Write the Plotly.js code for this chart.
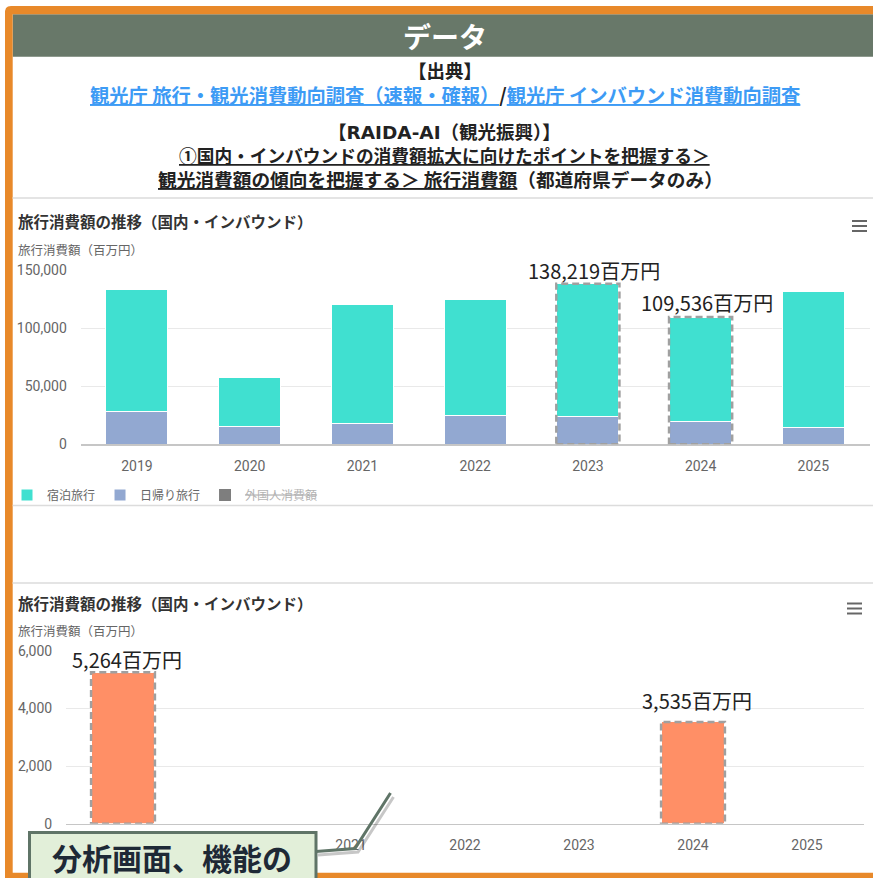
<!DOCTYPE html>
<html>
<head>
<meta charset="utf-8">
<script src="https://cdn.plot.ly/plotly-3.0.1.min.js"></script>
<style>
html,body{margin:0;padding:0;background:#fff;overflow:hidden}
#chart{width:873px;height:878px}
</style>
</head>
<body>
<div id="chart"></div>
<script>
// ---------------- data ----------------
const years = [2019, 2020, 2021, 2022, 2023, 2024, 2025];
const stayValues = [104600, 43000, 102200, 100000, 114719, 90336, 116900];   // 宿泊旅行
const dayTripValues = [28200, 14900, 17700, 25000, 23500, 19200, 14400];     // 日帰り旅行
const inboundValues = [5264, null, null, null, null, 3535, null];            // 外国人消費額
const highlightTop = [2023, 2024];
const highlightInbound = [2019, 2024];
const seriesNames = ['宿泊旅行', '日帰り旅行', '外国人消費額'];
const chartTitle = '旅行消費額の推移（国内・インバウンド）';
const axisTitle = '旅行消費額（百万円）';
const unit = '百万円';
const headerTitle = 'データ';
const sourceLabel = '【出典】';
const link1 = '観光庁 旅行・観光消費動向調査（速報・確報）';
const link2 = '観光庁 インバウンド消費動向調査';
const raidaLabel = ['【', 'RAIDA-AI', '（観光振興）】'];
const pathLine1 = '①国内・インバウンドの消費額拡大に向けたポイントを把握する＞';
const pathLine2a = '観光消費額の傾向を把握する＞ 旅行消費額';
const pathLine2b = '（都道府県データのみ）';
const calloutText = '分析画面、機能の';

// ---------------- helpers ----------------
const W = 873, H = 878;
const X = p => p / W;
const Y = p => 1 - p / H;
const path = pts => pts.map((p, i) => (i ? 'L' : 'M') + X(p[0]) + ',' + Y(p[1])).join(' ');
const FONT = 'Roboto, "Noto Sans CJK JP", sans-serif';
const JP = '"Noto Sans CJK JP", sans-serif';
const fmt = v => v.toLocaleString('en-US');

// ---------------- traces ----------------
const traces = [
  {type: 'bar', x: years, y: dayTripValues, name: seriesNames[1], width: 0.55,
   marker: {color: '#92a8d1', line: {color: '#ffffff', width: 1}},
   xaxis: 'x', yaxis: 'y', legendrank: 2, hoverinfo: 'skip'},
  {type: 'bar', x: years, y: stayValues, name: seriesNames[0], width: 0.55,
   marker: {color: '#40e0d0', line: {color: '#ffffff', width: 1}},
   xaxis: 'x', yaxis: 'y', legendrank: 1, hoverinfo: 'skip'},
  {type: 'bar', x: years, y: inboundValues, width: 0.55,
   name: '<span style="text-decoration:line-through">' + seriesNames[2] + '</span>',
   marker: {color: '#000000'}, visible: 'legendonly',
   xaxis: 'x', yaxis: 'y', legendrank: 3, hoverinfo: 'skip'},
  {type: 'bar', x: years, y: inboundValues, name: seriesNames[2], width: 0.55,
   marker: {color: '#ff8f66', line: {color: '#ffffff', width: 1}},
   xaxis: 'x2', yaxis: 'y2', showlegend: false, hoverinfo: 'skip'}
];

// ---------------- shapes ----------------
const shapes = [];
// header bar
shapes.push({type: 'rect', xref: 'paper', yref: 'paper', x0: X(12.7), x1: X(873), y0: Y(56.7), y1: Y(14.3),
  fillcolor: '#687869', line: {width: 0}, layer: 'above'});
// orange frame
shapes.push({type: 'path', xref: 'paper', yref: 'paper', layer: 'above',
  path: path([[5, 878], [5, 11], [6, 8], [8, 6.5], [11, 6], [873, 6], [873, 14.3], [12.7, 14.3], [12.7, 872.7], [873, 872.7], [873, 878]]) + ' Z',
  fillcolor: '#e8892a', line: {width: 0}});
// separators
[[198, 2, '#e4e4e4'], [505.5, 1.5, '#dcdcdc'], [583, 2, '#e4e4e4']].forEach(s => {
  shapes.push({type: 'line', xref: 'paper', yref: 'paper', x0: X(12.7), x1: X(873), y0: Y(s[0]), y1: Y(s[0]),
    line: {color: s[2], width: s[1]}, layer: 'above'});
});
// menu icons
[[852, 867, 221], [847, 862, 603.5]].forEach(m => {
  [0, 5, 10].forEach(d => shapes.push({type: 'line', xref: 'paper', yref: 'paper',
    x0: X(m[0]), x1: X(m[1]), y0: Y(m[2] + d), y1: Y(m[2] + d), line: {color: '#666', width: 2}, layer: 'above'}));
});
// dashed highlight borders (data coordinates)
highlightTop.forEach(yr => {
  const i = years.indexOf(yr);
  shapes.push({type: 'rect', xref: 'x', yref: 'y', x0: yr - 0.28, x1: yr + 0.28, y0: 0, y1: stayValues[i] + dayTripValues[i],
    line: {color: '#a0a0a0', width: 2.5, dash: '7px,4px'}, layer: 'above'});
});
highlightInbound.forEach(yr => {
  const i = years.indexOf(yr);
  shapes.push({type: 'rect', xref: 'x2', yref: 'y2', x0: yr - 0.28, x1: yr + 0.28, y0: 0, y1: inboundValues[i],
    line: {color: '#a0a0a0', width: 2.5, dash: '7px,4px'}, layer: 'above'});
});
// callout pointer (shadow + line) and box
shapes.push({type: 'path', xref: 'paper', yref: 'paper', layer: 'above',
  path: path([[318, 855], [358, 852], [393.5, 797]]), line: {color: 'rgba(0,0,0,0.22)', width: 3}});
shapes.push({type: 'path', xref: 'paper', yref: 'paper', layer: 'above',
  path: path([[316, 851.5], [355, 848.5], [390.5, 793]]), line: {color: '#5f7467', width: 3}});
shapes.push({type: 'rect', xref: 'paper', yref: 'paper', x0: X(29.5), x1: X(316), y0: Y(900), y1: Y(832.5),
  fillcolor: '#e2efd9', line: {color: '#5f7467', width: 3}, layer: 'above'});

// ---------------- annotations ----------------
const ann = [];
const txt = (x, y, text, font, extra) => ann.push(Object.assign({xref: 'paper', yref: 'paper', x: X(x), y: Y(y), text: text,
  showarrow: false, xanchor: 'center', yanchor: 'middle', borderpad: 0, font: font}, extra || {}));

txt(445, 36, headerTitle, {family: JP, size: 28, color: '#ffffff', weight: 700});
txt(445, 69.5, sourceLabel, {family: JP, size: 18.5, color: '#222', weight: 700});
txt(445, 95,
  '<span style="color:#3d9bf5;text-decoration:underline">' + link1 + '</span>' +
  '<span style="color:#222">/</span>' +
  '<span style="color:#3d9bf5;text-decoration:underline">' + link2 + '</span>',
  {family: JP, size: 19.3, color: '#3d9bf5', weight: 700});
txt(444, 131, raidaLabel[0] + '<span style="font-family:\'DejaVu Sans\'">' + raidaLabel[1] + '</span>' + raidaLabel[2],
  {family: JP, size: 18.5, color: '#222', weight: 700});
txt(445, 155, '<span style="text-decoration:underline">' + pathLine1 + '</span>', {family: JP, size: 17.7, color: '#222', weight: 700});
txt(440, 178.5, '<span style="text-decoration:underline">' + pathLine2a + '</span>' + pathLine2b, {family: JP, size: 18.7, color: '#222', weight: 700});

// chart titles & axis titles
[[220.7, 249.3], [603.3, 630]].forEach(t => {
  txt(17, t[0], chartTitle, {family: JP, size: 15.5, color: '#333', weight: 700}, {xanchor: 'left'});
  txt(17, t[1], axisTitle, {family: JP, size: 12.5, color: '#666'}, {xanchor: 'left'});
});

// bar value labels
const topShift = {2023: 13, 2024: 15};
highlightTop.forEach(yr => {
  const i = years.indexOf(yr);
  const total = stayValues[i] + dayTripValues[i];
  ann.push({xref: 'x', yref: 'y', x: yr, y: total, text: fmt(total) + unit, showarrow: false,
    xanchor: 'center', yanchor: 'middle', xshift: 6, yshift: topShift[yr], font: {family: JP, size: 20, color: '#222'}});
});
const inShift = {2019: 13, 2024: 21};
highlightInbound.forEach(yr => {
  const i = years.indexOf(yr);
  ann.push({xref: 'x2', yref: 'y2', x: yr, y: inboundValues[i], text: fmt(inboundValues[i]) + unit, showarrow: false,
    xanchor: 'center', yanchor: 'middle', xshift: 4, yshift: inShift[yr], font: {family: JP, size: 20, color: '#222'}});
});

// callout text
txt(172, 857, calloutText, {family: JP, size: 30, color: '#1e2936', weight: 700});

// ---------------- layout ----------------
const xCommon = {
  type: 'linear', tickvals: years, ticktext: years.map(String), range: [2018.5, 2025.5],
  showgrid: false, zeroline: false, showline: true, linecolor: '#c6c6c6', linewidth: 1.5,
  ticks: 'outside', ticklen: 8, tickcolor: 'rgba(0,0,0,0)',
  tickfont: {family: FONT, size: 14, color: '#666'}, fixedrange: true
};
const yCommon = {
  showgrid: true, gridcolor: '#e9e9e9', gridwidth: 1, zeroline: false, showline: false,
  tickformat: ',d', ticks: 'outside', ticklen: 10, tickcolor: 'rgba(0,0,0,0)',
  tickfont: {family: FONT, size: 14, color: '#666'}, fixedrange: true
};

const layout = {
  width: W, height: H,
  margin: {l: 0, r: 0, t: 0, b: 0},
  paper_bgcolor: '#ffffff', plot_bgcolor: 'rgba(0,0,0,0)',
  barmode: 'stack', bargap: 0.45,
  font: {family: FONT},
  showlegend: true,
  legend: {orientation: 'h', x: X(7), xanchor: 'left', y: Y(495), yanchor: 'middle',
    font: {family: JP, size: 12, color: '#666'}, bgcolor: 'rgba(0,0,0,0)', traceorder: 'normal'},
  xaxis: Object.assign({}, xCommon, {domain: [X(80.6), X(869.7)], anchor: 'y'}),
  yaxis: Object.assign({}, yCommon, {domain: [Y(444.3), Y(270)], range: [0, 150000], dtick: 50000, anchor: 'x'}),
  xaxis2: Object.assign({}, xCommon, {domain: [X(66), X(864)], anchor: 'y2'}),
  yaxis2: Object.assign({}, yCommon, {domain: [Y(823.7), Y(651)], range: [0, 6000], dtick: 2000, anchor: 'x2'}),
  shapes: shapes,
  annotations: ann
};

Plotly.newPlot('chart', traces, layout, {staticPlot: true, displayModeBar: false});
</script>
</body>
</html>
